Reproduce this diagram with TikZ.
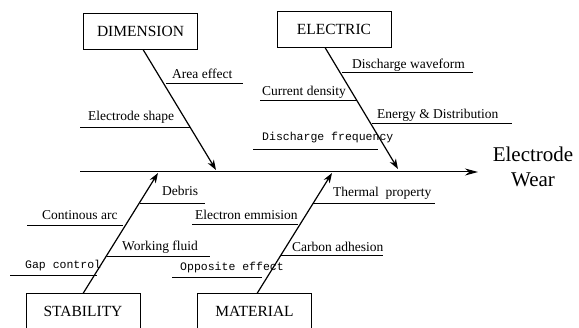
\documentclass[tikz,border=0pt]{standalone}
\usepackage{fontspec}
\setmainfont{Liberation Serif}
\newfontfamily\monofont{Liberation Mono}
\usetikzlibrary{arrows.meta}
\newcommand{\fbranch}[8]{%
  \coordinate (#1a) at (#2,#4);
  \coordinate (#1b) at (#3,#4);
  \draw[bone] (#1a) -- (#1b);
  \node[#7] (#1t) at (#5,#6) {#8};
}
\begin{document}
\begin{tikzpicture}[x=1pt,y=-1pt,
  catbox/.style={draw,line width=0.9pt,minimum width=114pt,minimum height=36pt,inner sep=0pt,font=\fontsize{15.5}{18}\selectfont},
  lbl/.style={anchor=west,inner sep=0pt,font=\fontsize{13.5}{16}\selectfont},
  mlbl/.style={anchor=west,inner sep=0pt,font=\monofont\fontsize{11.5}{14}\selectfont},
  bone/.style={line width=0.6pt},
  mainarrow/.style={line width=1.2pt,-{Stealth[length=10pt,width=7pt,inset=3pt]}},
  spine/.style={line width=1pt,-{Stealth[length=13pt,width=7pt]}}]
\useasboundingbox (0,0) rectangle (579,328);
\begin{scope}
\clip (0,0) rectangle (579,328);
% category boxes
\node[catbox] (dim)  at (140.5,31) {DIMENSION};
\node[catbox] (elec) at (334,29)   {ELECTRIC};
\node[catbox] (stab) at (83,311)   {STABILITY};
\node[catbox] (mat)  at (254.5,311) {MATERIAL};
% effect
\node[font=\fontsize{21}{25}\selectfont,align=center,inner sep=0pt] (wear) at (533,167) {Electrode\\Wear};
% spine
\coordinate (spst) at (80,172);
\coordinate (sptip) at (478,172);
\draw[spine] (spst) -- (sptip);
% main bones
\coordinate (dimtip) at (216,170);
\coordinate (electip) at (398,169);
\coordinate (stabtip) at (158,173);
\coordinate (mattip) at (332,173);
\draw[mainarrow] ([xshift=2.5pt]dim.south) -- (dimtip);
\draw[mainarrow] ([xshift=-9pt]elec.south) -- (electip);
\draw[mainarrow] ([yshift=-1pt]stab.north) -- (stabtip);
\draw[mainarrow] ([xshift=2.5pt,yshift=-1pt]mat.north) -- (mattip);
% DIMENSION causes
\fbranch{ae}{166}{243}{83}{172}{74}{lbl}{Area effect}
\fbranch{es}{80}{190}{127}{88}{117}{lbl}{Electrode shape}
% ELECTRIC causes
\fbranch{dw}{342}{473}{72}{352}{65}{lbl}{Discharge waveform}
\fbranch{cd}{260}{357}{100}{262}{92}{lbl}{Current density}
\fbranch{ed}{372}{512}{123}{377}{115}{lbl}{Energy \& Distribution}
\fbranch{df}{253}{378}{149}{262}{138}{mlbl}{Discharge frequency}
% STABILITY causes
\fbranch{db}{140}{205}{203}{162}{191}{lbl}{Debris}
\fbranch{ca}{27}{123}{225}{42}{215}{lbl}{Continous arc}
\fbranch{wf}{107}{210}{256}{122}{247}{lbl}{Working fluid}
\fbranch{gc}{10}{97}{275}{25}{266}{mlbl}{Gap control}
% MATERIAL causes
\fbranch{tp}{313}{435}{203}{333}{193}{lbl}{Thermal\ \ property}
\fbranch{ee}{192}{298}{224}{195}{215}{lbl}{Electron emmision}
\fbranch{cb}{280}{383}{255}{292}{247}{lbl}{Carbon adhesion}
\fbranch{oe}{172}{262}{277}{180}{268}{mlbl}{Opposite effect}
\end{scope}
\end{tikzpicture}
\end{document}
